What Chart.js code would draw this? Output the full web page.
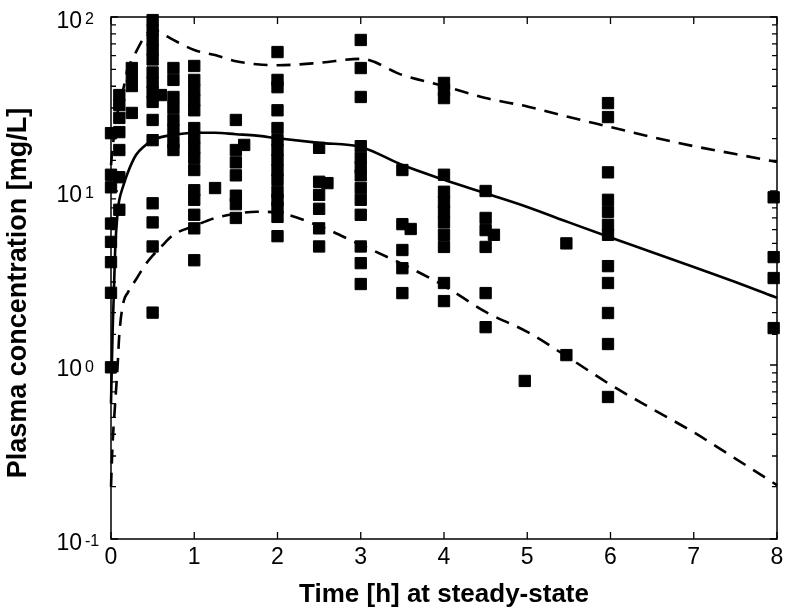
<!DOCTYPE html>
<html>
<head>
<meta charset="utf-8">
<script src="https://cdn.jsdelivr.net/npm/chart.js@4.4.1/dist/chart.umd.min.js"></script>
<style>
html,body{margin:0;padding:0;background:#ffffff;}
#wrap{width:786px;height:614px;}
</style>
</head>
<body>
<div id="wrap"><canvas id="c" width="786" height="614"></canvas></div>
<script>
// ---- observed samples (time after dose [h], plasma concentration [mg/L]) ----
const sampleTimes = [0, 0.1, 0.25, 0.5, 0.6, 0.75, 1, 1.25, 1.5, 1.6, 2, 2.5, 2.6, 3, 3.5, 3.6, 4, 4.5, 4.6, 4.97, 5.47, 5.97, 7.96];
const sampleConc = [
  [21.5, 12.4, 10.5, 6.5, 5.1, 3.9, 2.6, 0.97],
  [35.6, 31.2, 26.3, 21.8, 17.2, 12.0, 7.8],
  [50.9, 45.8, 40.1, 28.1],
  [96, 84, 74, 65, 57, 48, 42, 37, 32.5, 25.6, 19.6, 8.5, 6.6, 4.8, 2.0],
  [35.6],
  [50.9, 43.5, 34.7, 30.0, 25.6, 22.4, 19.1, 17.2],
  [52.3, 43.5, 38, 33.2, 29.1, 23, 20.2, 17.7, 15.5, 13.2, 10.1, 8.9, 7.3, 6.1, 4.0],
  [10.4],
  [25.6, 17.2, 14.6, 12.3, 9.4, 8.4, 7.0],
  [18.4],
  [62.9, 43.5, 39.5, 29.1, 23, 19.6, 17.2, 15.1, 13.2, 11.6, 9.9, 8.9, 8.0, 7.1, 5.5],
  [17.7, 11.3, 9.5, 7.9, 6.1, 4.8],
  [11.1],
  [73.8, 50.9, 34.7, 18.1, 15.5, 13.7, 12.3, 10.4, 8.9, 7.3, 4.8, 3.85, 2.92],
  [13.2, 6.45, 4.58, 3.6, 2.59],
  [6.05],
  [41.8, 38, 34.2, 12.4, 9.9, 8.65, 7.6, 6.6, 5.6, 4.77, 2.96, 2.33],
  [10.0, 7.0, 5.96, 4.77, 2.59, 1.65],
  [5.6],
  [0.81],
  [5.0, 1.14],
  [32.0, 26.6, 12.8, 8.9, 7.6, 6.4, 5.6, 3.7, 2.96, 1.99, 1.32, 0.655],
  [9.2, 4.17, 3.16, 1.63]
];

// ---- model curves ----
const curveTimes = [0, 0.02, 0.05, 0.08, 0.1, 0.15, 0.2, 0.3, 0.4, 0.5, 0.6, 0.75, 1, 1.25, 1.5, 1.75, 2, 2.5, 3, 3.5, 4, 4.5, 5, 5.5, 6, 6.5, 7, 7.5, 8];
const medianConc = [0.6, 1.59, 4.58, 7.6, 8.9, 10.8, 12.7, 16.1, 18.1, 19.6, 20.4, 21.0, 21.6, 21.6, 21.2, 20.8, 20.1, 18.9, 17.9, 14.1, 11.6, 9.7, 8.1, 6.6, 5.4, 4.45, 3.66, 3.0, 2.43];
const upperConc  = [14.1, 17.7, 24, 28.4, 31.6, 39, 49.6, 62.9, 76.7, 85, 80.9, 73.8, 64.6, 60.4, 55.7, 53.5, 52.8, 54.5, 57.5, 46.4, 40.1, 34.2, 30.6, 26.6, 23.3, 20.4, 18.1, 16.3, 14.7];
const lowerConc  = [0.2, 0.36, 0.6, 1.0, 1.5, 2.3, 2.6, 3.1, 3.7, 4.25, 4.77, 5.6, 6.3, 7.0, 7.4, 7.6, 7.5, 6.3, 4.9, 3.8, 2.85, 2.02, 1.55, 1.1, 0.77, 0.56, 0.41, 0.29, 0.204];

// ---- axes ----
const xTickValues = [0, 1, 2, 3, 4, 5, 6, 7, 8];
const yDecades = [0.1, 1, 10, 100];
const xTitle = 'Time [h] at steady-state';
const yTitle = 'Plasma concentration [mg/L]';

const FONT = "'Liberation Sans', Arial, Helvetica, sans-serif";

const samplePoints = [];
sampleTimes.forEach((t, i) => sampleConc[i].forEach(c => samplePoints.push({x: t, y: c})));
const toXY = arr => curveTimes.map((t, i) => ({x: t, y: arr[i]}));

const isDecade = v => Math.abs(Math.log10(v) - Math.round(Math.log10(v))) < 1e-6;
const noPad = s => { s.paddingTop = 0; s.paddingBottom = 0; s.paddingLeft = 0; s.paddingRight = 0; };

const framePlugin = {
  id: 'framePlugin',
  afterDraw(chart) {
    const {ctx, chartArea: a, scales: {x, y}} = chart;
    ctx.save();
    ctx.strokeStyle = '#000';
    ctx.lineWidth = 1.5;
    ctx.strokeRect(a.left, a.top, a.right - a.left, a.bottom - a.top);
    ctx.lineWidth = 1.3;
    ctx.beginPath();
    xTickValues.forEach(v => {
      const px = x.getPixelForValue(v);
      ctx.moveTo(px, a.bottom); ctx.lineTo(px, a.bottom - 7);
      ctx.moveTo(px, a.top); ctx.lineTo(px, a.top + 7);
    });
    y.ticks.forEach(t => {
      const py = y.getPixelForValue(t.value);
      const len = isDecade(t.value) ? 7 : 5;
      ctx.moveTo(a.left, py); ctx.lineTo(a.left + len, py);
      ctx.moveTo(a.right, py); ctx.lineTo(a.right - len, py);
    });
    ctx.stroke();
    // exponents of the decade labels
    ctx.fillStyle = '#000';
    ctx.font = '16px ' + FONT;
    ctx.textAlign = 'left';
    ctx.textBaseline = 'top';
    yDecades.forEach(v => {
      const py = y.getPixelForValue(v);
      const e = Math.round(Math.log10(v));
      ctx.fillText(e < 0 ? '-' + Math.abs(e) : String(e), a.left - 26, py - 5);
    });
    // y-axis title (placed as in the original figure, slightly below the axis centre)
    ctx.save();
    ctx.translate(19, (a.top + a.bottom) / 2 + 15);
    ctx.rotate(-Math.PI / 2);
    ctx.font = 'bold 27px ' + FONT;
    ctx.textAlign = 'center';
    ctx.textBaseline = 'middle';
    ctx.fillText(yTitle, 0, 0);
    ctx.restore();
    ctx.restore();
  }
};

new Chart(document.getElementById('c'), {
  type: 'scatter',
  data: {
    datasets: [
      {
        label: 'observed',
        data: samplePoints,
        pointStyle: 'rect',
        pointRadius: 8,
        pointHoverRadius: 8,
        backgroundColor: '#000',
        borderColor: '#000',
        borderWidth: 1,
        clip: false
      },
      {
        label: 'median',
        type: 'line',
        data: toXY(medianConc),
        borderColor: '#000',
        borderWidth: 2.6,
        pointRadius: 0,
        fill: false,
        cubicInterpolationMode: 'monotone',
        clip: false
      },
      {
        label: 'upper',
        type: 'line',
        data: toXY(upperConc),
        borderColor: '#000',
        borderWidth: 2.6,
        borderDash: [14, 9],
        pointRadius: 0,
        fill: false,
        cubicInterpolationMode: 'monotone',
        clip: false
      },
      {
        label: 'lower',
        type: 'line',
        data: toXY(lowerConc),
        borderColor: '#000',
        borderWidth: 2.6,
        borderDash: [14, 9],
        pointRadius: 0,
        fill: false,
        cubicInterpolationMode: 'monotone',
        clip: false
      }
    ]
  },
  options: {
    responsive: false,
    animation: false,
    devicePixelRatio: 1,
    layout: {autoPadding: false, padding: {top: 17, right: 9, left: 0, bottom: 0}},
    plugins: {legend: {display: false}, tooltip: {enabled: false}},
    scales: {
      x: {
        type: 'linear',
        min: 0, max: 8,
        afterBuildTicks: s => { s.ticks = xTickValues.map(v => ({value: v})); },
        afterFit: s => { s.height = 75; noPad(s); },
        grid: {display: false, drawTicks: false},
        border: {display: false},
        ticks: {color: '#000', font: {family: FONT, size: 23}, padding: 5, maxRotation: 0},
        title: {display: true, text: xTitle, color: '#000', font: {family: FONT, size: 26, weight: 'bold'}, padding: {top: 0, bottom: 4}}
      },
      y: {
        type: 'logarithmic',
        min: 0.1, max: 100,
        afterFit: s => { s.width = 111; noPad(s); },
        grid: {display: false, drawTicks: false},
        border: {display: false},
        ticks: {
          color: '#000',
          font: {family: FONT, size: 23},
          padding: 29,
          labelOffset: 5,
          autoSkip: false,
          callback: v => isDecade(v) ? '10' : ''
        },
        title: {display: false, text: yTitle}
      }
    }
  },
  plugins: [framePlugin]
});
</script>
</body>
</html>
